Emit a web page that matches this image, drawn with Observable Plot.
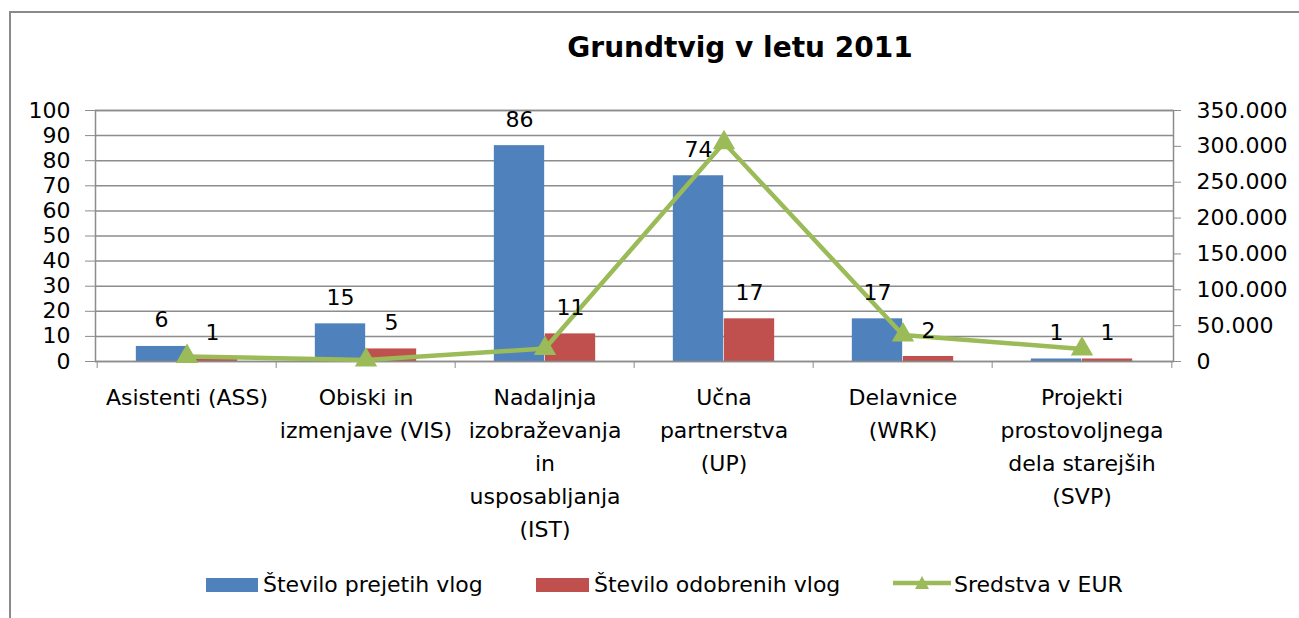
<!DOCTYPE html>
<html>
<head>
<meta charset="utf-8">
<script src="https://cdn.jsdelivr.net/npm/d3@7"></script>
<script src="https://cdn.jsdelivr.net/npm/@observablehq/plot@0.6"></script>
<style>
  body { margin: 0; background: #fff; overflow: hidden; }
  #wrap { position: relative; width: 1299px; height: 618px; overflow: hidden; font-family: "DejaVu Sans", sans-serif; color: #000; background: #fff; }
  #chart { position: absolute; left: 0; top: 0; }
  #border { position: absolute; left: 9px; top: 11px; width: 1400px; height: 700px; border: 2px solid #8a8a8a; pointer-events: none; }
  #title { position: absolute; left: 540px; width: 400px; top: 31px; line-height: 34px; text-align: center; font-weight: bold; font-size: 28px; }
  .lg { position: absolute; top: 572px; line-height: 26px; font-size: 22px; white-space: nowrap; }
  .sw { position: absolute; }
</style>
</head>
<body>
<div id="wrap">
  <div id="chart"></div>
  <div id="title">Grundtvig v letu 2011</div>
  <div id="legend"></div>
  <div id="border"></div>
</div>
<script>
// ---- data ----
const categories = ["ASS", "VIS", "IST", "UP", "WRK", "SVP"];
const categoryLabels = [
  "Asistenti (ASS)",
  "Obiski in\nizmenjave (VIS)",
  "Nadaljnja\nizobraževanja\nin\nusposabljanja\n(IST)",
  "Učna\npartnerstva\n(UP)",
  "Delavnice\n(WRK)",
  "Projekti\nprostovoljnega\ndela starejših\n(SVP)"
];
const received = [6, 15, 86, 74, 17, 1];
const approved = [1, 5, 11, 17, 2, 1];
const funds = [7000, 2000, 18000, 305000, 37000, 17500];
const leftTicks = d3.range(0, 101, 10);
const rightTicks = d3.range(0, 350001, 50000);
const seriesNames = ["Število prejetih vlog", "Število odobrenih vlog", "Sredstva v EUR"];
const colors = ["#4F81BD", "#C0504D", "#9BBB59"];

const leftMax = 100, rightMax = 350000;
const toLeft = v => v * leftMax / rightMax;
const rows = categories.map((c, i) => ({
  cat: c, label: categoryLabels[i], received: received[i], approved: approved[i], funds: funds[i]
}));

const W = 1299, H = 618;
const mL = 95, mR = 126, mT = 110, mB = 257;
const bw = (W - mL - mR) / categories.length;
const barW = 51;
const grid = "#8c8c8c";
const euro = v => v === 0 ? "0" : d3.format(",")(v).replace(/,/g, ".");

const chart = Plot.plot({
  width: W, height: H,
  marginLeft: mL, marginRight: mR, marginTop: mT, marginBottom: mB,
  style: { fontFamily: "DejaVu Sans", fontSize: "22px", color: "#000", background: "transparent" },
  x: { type: "band", domain: categories, padding: 0, axis: null },
  y: { domain: [0, leftMax], axis: null },
  marks: [
    Plot.ruleY(leftTicks, { stroke: grid, strokeWidth: 1.5 }),
    Plot.barY(rows, { x: "cat", y: "received", fill: colors[0], insetLeft: bw / 2 - barW, insetRight: bw / 2 }),
    Plot.barY(rows, { x: "cat", y: "approved", fill: colors[1], insetLeft: bw / 2, insetRight: bw / 2 - barW }),
    Plot.frame({ stroke: grid, strokeWidth: 1.5 }),
    Plot.axisY(leftTicks, { anchor: "left", tickSize: 10, tickPadding: 15, stroke: grid, fontSize: 22, label: null }),
    Plot.axisY(rightTicks.map(toLeft), { anchor: "right", tickSize: 7, tickPadding: 16, stroke: grid, fontSize: 22, label: null,
      tickFormat: v => euro(Math.round(v * rightMax / leftMax)) }),
    Plot.axisX(categories, { tickSize: 7, tickFormat: () => "", dx: -bw / 2, stroke: grid, label: null }),
    Plot.axisX([categories[categories.length - 1]], { tickSize: 7, tickFormat: () => "", dx: bw / 2, stroke: grid, label: null }),
    Plot.text(rows, { x: "cat", text: "label", frameAnchor: "bottom", lineAnchor: "top", dy: 20, lineHeight: 1.5, fontSize: 22, fill: "#000" }),
    Plot.line(rows, { x: "cat", y: d => toLeft(d.funds), stroke: colors[2], strokeWidth: 4.5 }),
    Plot.dot(rows, { x: "cat", y: d => toLeft(d.funds), symbol: "triangle", r: 8.3, fill: colors[2], stroke: "none" }),
    Plot.text(rows, { x: "cat", y: "received", text: d => String(d.received), dx: -barW / 2, dy: -26, fontSize: 22, fill: "#000" }),
    Plot.text(rows, { x: "cat", y: "approved", text: d => String(d.approved), dx: barW / 2, dy: -26, fontSize: 22, fill: "#000" })
  ]
});
document.getElementById("chart").appendChild(chart);

// ---- legend ----
const legend = document.getElementById("legend");
const items = [
  { sw: `<div class="sw" style="left:206px;top:578px;width:52px;height:14px;background:${colors[0]}"></div>`, left: 263, text: seriesNames[0] },
  { sw: `<div class="sw" style="left:536px;top:578px;width:53px;height:14px;background:${colors[1]}"></div>`, left: 594, text: seriesNames[1] },
  { sw: `<svg class="sw" style="left:893px;top:574px" width="58" height="18"><line x1="0" y1="9" x2="58" y2="9" stroke="${colors[2]}" stroke-width="4.5"/><path d="M29,2 L36,15 L22,15 Z" fill="${colors[2]}"/></svg>`, left: 954, text: seriesNames[2] }
];
legend.innerHTML = items.map(it => it.sw + `<div class="lg" style="left:${it.left}px">${it.text}</div>`).join("");
</script>
</body>
</html>
